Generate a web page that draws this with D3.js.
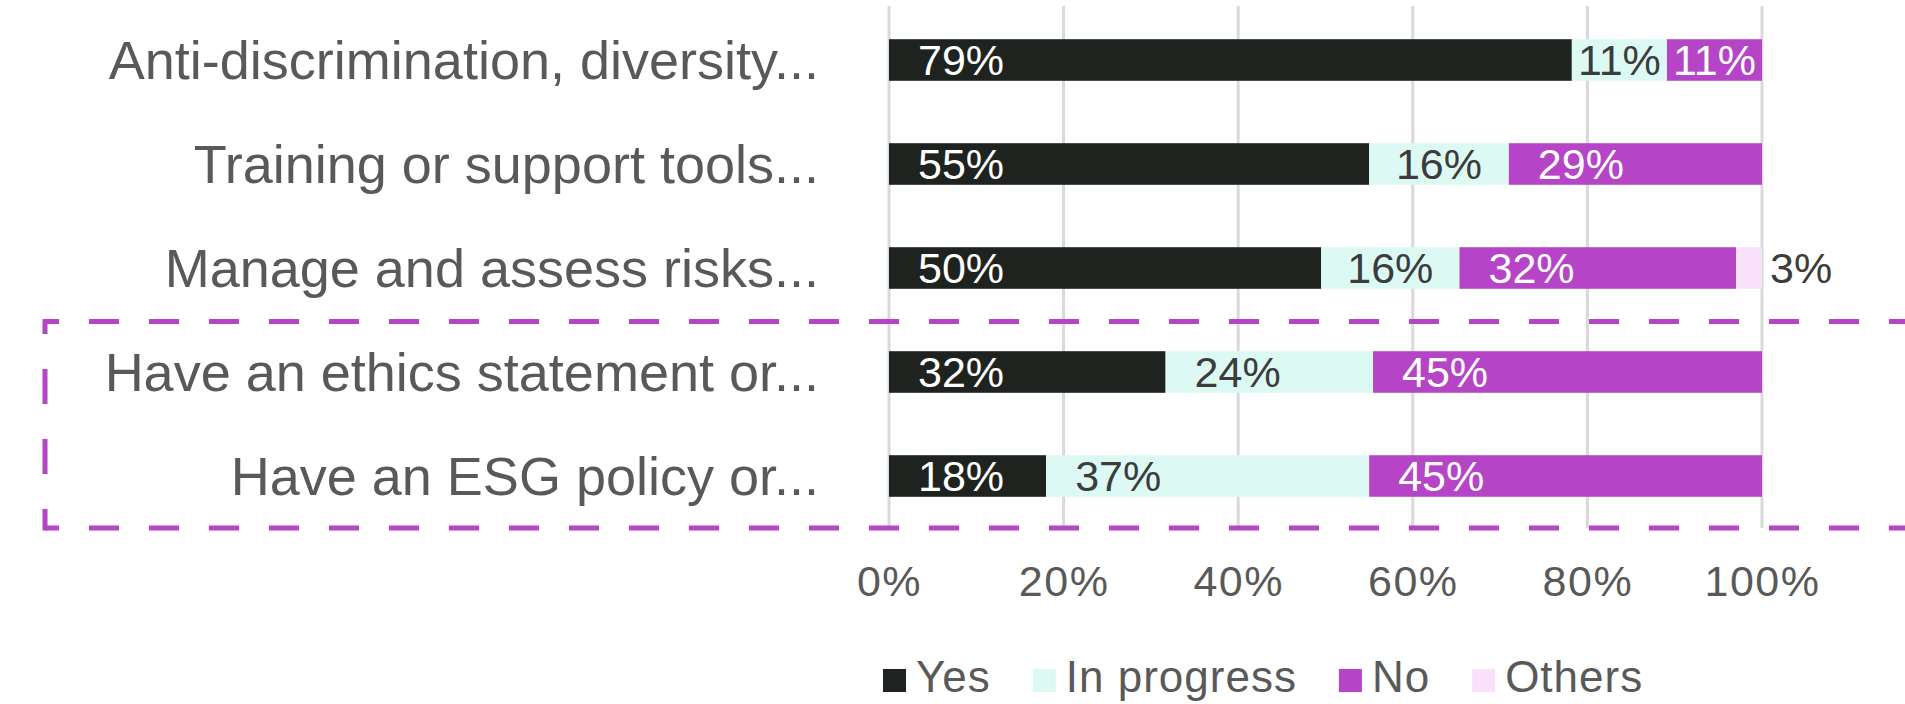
<!DOCTYPE html>
<html>
<head>
<meta charset="utf-8">
<script src="https://cdn.jsdelivr.net/npm/d3@7/dist/d3.min.js"></script>
<style>
  html, body { margin: 0; padding: 0; background: #ffffff; }
  svg { display: block; }
  text { font-family: "Liberation Sans", Arial, sans-serif; }
</style>
</head>
<body>
<svg id="chart" width="1905" height="704"></svg>
<script>
// Survey answers per policy area (percent of respondents)
const categories = [
  "Anti-discrimination, diversity...",
  "Training or support tools...",
  "Manage and assess risks...",
  "Have an ethics statement or...",
  "Have an ESG policy or..."
];
const seriesNames = ["Yes", "In progress", "No", "Others"];
const yesValues        = [79, 55, 50, 32, 18];
const inProgressValues = [11, 16, 16, 24, 37];
const noValues         = [11, 29, 32, 45, 45];
const othersValues     = [0, 0, 3, 0, 0];
const xTickValues = [0, 0.2, 0.4, 0.6, 0.8, 1];
const highlighted = ["Have an ethics statement or...", "Have an ESG policy or..."];

const colors = {
  "Yes": "#1f2320",
  "In progress": "#dcfaf3",
  "No": "#b545c6",
  "Others": "#fae1fa"
};
const labelColors = {
  "Yes": "#ffffff",
  "In progress": "#3c3c3c",
  "No": "#ffffff",
  "Others": "#3c3c3c"
};

const rows = categories.map((c, i) => ({
  category: c,
  "Yes": yesValues[i],
  "In progress": inProgressValues[i],
  "No": noValues[i],
  "Others": othersValues[i]
}));

const svg = d3.select("#chart");

const x = d3.scaleLinear().domain([0, 1]).range([889, 1762]);
const y = d3.scaleBand().domain(categories).range([8, 528])
  .paddingInner(0.6).paddingOuter(0.3);

// Gridlines
svg.append("g")
  .selectAll("line")
  .data(xTickValues)
  .join("line")
  .attr("x1", d => x(d)).attr("x2", d => x(d))
  .attr("y1", 6).attr("y2", 528)
  .attr("stroke", "#d9d9d9")
  .attr("stroke-width", 3);

// 100% stacked bars
const stack = d3.stack().keys(seriesNames).offset(d3.stackOffsetExpand);
const layers = stack(rows);

const layerG = svg.append("g")
  .selectAll("g")
  .data(layers)
  .join("g")
  .attr("fill", d => colors[d.key]);

layerG.selectAll("rect")
  .data(d => d.map(s => ({ key: d.key, s })))
  .join("rect")
  .attr("x", d => x(d.s[0]))
  .attr("y", d => y(d.s.data.category))
  .attr("width", d => Math.max(0, x(d.s[1]) - x(d.s[0])))
  .attr("height", y.bandwidth());

// Value labels
const valueFont = 43;
const labelG = svg.append("g").attr("font-size", valueFont);
layers.forEach(layer => {
  layer.forEach(s => {
    const v = s.data[layer.key];
    if (!v) return;
    const x0 = x(s[0]), x1 = x(s[1]);
    const w = x1 - x0;
    const cy = y(s.data.category) + y.bandwidth() / 2;
    const t = labelG.append("text")
      .attr("y", cy)
      .attr("dy", "0.34em")
      .text(v + "%");
    const tw = t.node().getComputedTextLength();
    if (w < tw + 6) {
      // too narrow: place outside, right of the bar
      t.attr("x", x1 + 8).attr("fill", "#3c3c3c");
    } else {
      const pad = Math.min(29, (w - tw) / 2);
      t.attr("x", x0 + pad).attr("fill", labelColors[layer.key]);
    }
  });
});

// Category labels
svg.append("g")
  .selectAll("text")
  .data(categories)
  .join("text")
  .attr("x", 819)
  .attr("y", d => y(d) + y.bandwidth() / 2)
  .attr("dy", "0.35em")
  .attr("text-anchor", "end")
  .attr("font-size", 54)
  .attr("fill", "#595959")
  .text(d => d);

// X axis tick labels
const xAxis = d3.axisBottom(x)
  .tickValues(xTickValues)
  .tickFormat(d3.format(".0%"))
  .tickSize(0)
  .tickPadding(0);
const axisG = svg.append("g")
  .attr("transform", "translate(0,565)")
  .call(xAxis);
axisG.select(".domain").remove();
axisG.selectAll("text")
  .attr("font-family", "Liberation Sans, Arial, sans-serif")
  .attr("font-size", 43)
  .attr("letter-spacing", 1.5)
  .attr("fill", "#595959")
  .attr("dy", "0.72em")
  .attr("y", 0);

// Dashed highlight frame round the last two categories
const step = y.step();
const boxTop = y(highlighted[0]) + y.bandwidth() / 2 - step / 2 + 1.5;
const boxBottom = y(highlighted[highlighted.length - 1]) + y.bandwidth() / 2 + step / 2;
const boxLeft = 45;
const frame = svg.append("g")
  .attr("stroke", "#b545c6")
  .attr("stroke-width", 5)
  .attr("fill", "none");
[boxTop, boxBottom].forEach(yy => {
  frame.append("line")
    .attr("x1", boxLeft).attr("x2", 1960)
    .attr("y1", yy).attr("y2", yy)
    .attr("stroke-dasharray", "30 30")
    .attr("stroke-dashoffset", 16);
});
frame.append("line")
  .attr("x1", boxLeft).attr("x2", boxLeft)
  .attr("y1", boxTop - 2.5).attr("y2", boxBottom + 2.5)
  .attr("stroke-dasharray", "35 35")
  .attr("stroke-dashoffset", 20);

// Legend
const legend = svg.append("g")
  .attr("font-size", 44)
  .attr("letter-spacing", 1)
  .attr("fill", "#595959");
let lx = 883;
const baseY = 692;
seriesNames.forEach(name => {
  legend.append("rect")
    .attr("x", lx).attr("y", baseY - 23)
    .attr("width", 23).attr("height", 23)
    .attr("fill", colors[name]);
  const t = legend.append("text")
    .attr("x", lx + 33).attr("y", baseY)
    .text(name);
  lx += 33 + t.node().getComputedTextLength() + 42;
});
</script>
</body>
</html>
